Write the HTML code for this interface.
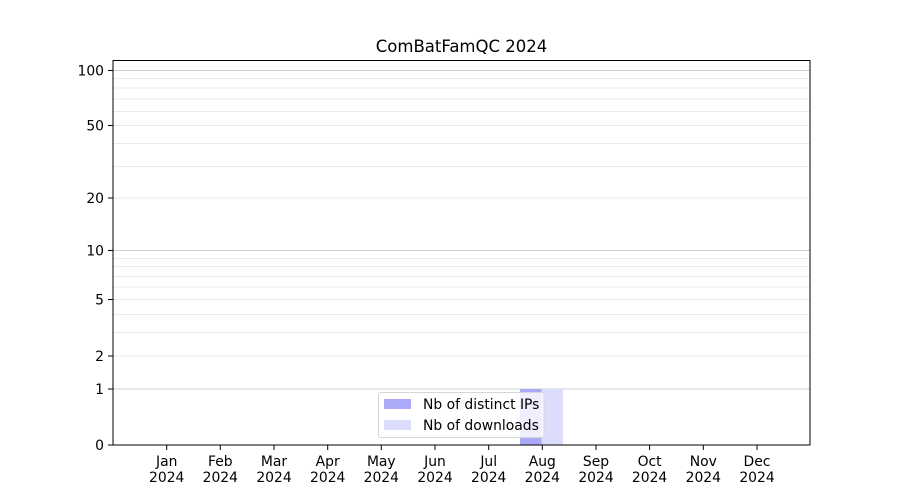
<!DOCTYPE html>
<html>
<head>
<meta charset="utf-8">
<style>
  html, body { margin: 0; padding: 0; background: #ffffff; }
  svg { display: block; }
  text { font-family: "DejaVu Sans", "Liberation Sans", sans-serif; fill: #000; }
</style>
</head>
<body>
<svg width="900" height="500" viewBox="0 0 900 500" xmlns="http://www.w3.org/2000/svg">
  <rect x="0" y="0" width="900" height="500" fill="#ffffff"/>
  <!-- title -->
  <text x="461.5" y="52" font-size="16.5" text-anchor="middle">ComBatFamQC 2024</text>

  <!-- minor / light gridlines -->
  <g stroke="#ebebeb" stroke-width="1">
    <line x1="113" x2="810" y1="356" y2="356"/>
    <line x1="113" x2="810" y1="332.5" y2="332.5"/>
    <line x1="113" x2="810" y1="314.5" y2="314.5"/>
    <line x1="113" x2="810" y1="299.5" y2="299.5"/>
    <line x1="113" x2="810" y1="287" y2="287"/>
    <line x1="113" x2="810" y1="276.5" y2="276.5"/>
    <line x1="113" x2="810" y1="266.5" y2="266.5"/>
    <line x1="113" x2="810" y1="258.5" y2="258.5"/>
    <line x1="113" x2="810" y1="198" y2="198"/>
    <line x1="113" x2="810" y1="166.5" y2="166.5"/>
    <line x1="113" x2="810" y1="143.5" y2="143.5"/>
    <line x1="113" x2="810" y1="125.5" y2="125.5"/>
    <line x1="113" x2="810" y1="111.5" y2="111.5"/>
    <line x1="113" x2="810" y1="99" y2="99"/>
    <line x1="113" x2="810" y1="88" y2="88"/>
    <line x1="113" x2="810" y1="78.5" y2="78.5"/>
  </g>
  <!-- major gridlines -->
  <g stroke="#cfcfcf" stroke-width="1">
    <line x1="113" x2="810" y1="389" y2="389"/>
    <line x1="113" x2="810" y1="250.5" y2="250.5"/>
    <line x1="113" x2="810" y1="70.5" y2="70.5"/>
  </g>

  <!-- bars -->
  <rect x="520" y="389" width="21.7" height="56" fill="#aaaaf9"/>
  <rect x="541.7" y="389" width="21.2" height="56" fill="#dcdcfc"/>

  <!-- legend -->
  <rect x="378.5" y="392.5" width="165.5" height="45" rx="2.5" ry="2.5" fill="#ffffff" fill-opacity="0.8" stroke="#d6d6d6" stroke-width="1"/>
  <rect x="384" y="399" width="27" height="10" fill="#aaaaf9"/>
  <rect x="384" y="420" width="27" height="10" fill="#dcdcfc"/>
  <text x="423" y="409" font-size="13.9">Nb of distinct IPs</text>
  <text x="423" y="430" font-size="13.9">Nb of downloads</text>

  <!-- axes frame -->
  <rect x="113" y="60.5" width="697" height="384.5" fill="none" stroke="#000" stroke-width="1"/>

  <!-- y ticks -->
  <g stroke="#000" stroke-width="1">
    <line x1="108" x2="113" y1="445" y2="445"/>
    <line x1="108" x2="113" y1="389" y2="389"/>
    <line x1="108" x2="113" y1="356" y2="356"/>
    <line x1="108" x2="113" y1="299.5" y2="299.5"/>
    <line x1="108" x2="113" y1="250.5" y2="250.5"/>
    <line x1="108" x2="113" y1="198" y2="198"/>
    <line x1="108" x2="113" y1="125.5" y2="125.5"/>
    <line x1="108" x2="113" y1="70.5" y2="70.5"/>
  </g>
  <g font-size="13.9" text-anchor="end">
    <text x="104" y="450">0</text>
    <text x="104" y="394">1</text>
    <text x="104" y="361">2</text>
    <text x="104" y="304.5">5</text>
    <text x="104" y="255.5">10</text>
    <text x="104" y="203">20</text>
    <text x="104" y="130.5">50</text>
    <text x="104" y="75.5">100</text>
  </g>

  <!-- x ticks -->
  <g stroke="#000" stroke-width="1">
    <line x1="166.7" x2="166.7" y1="445" y2="450"/>
    <line x1="220.3" x2="220.3" y1="445" y2="450"/>
    <line x1="274" x2="274" y1="445" y2="450"/>
    <line x1="327.7" x2="327.7" y1="445" y2="450"/>
    <line x1="381.3" x2="381.3" y1="445" y2="450"/>
    <line x1="435" x2="435" y1="445" y2="450"/>
    <line x1="488.7" x2="488.7" y1="445" y2="450"/>
    <line x1="542.3" x2="542.3" y1="445" y2="450"/>
    <line x1="596" x2="596" y1="445" y2="450"/>
    <line x1="649.6" x2="649.6" y1="445" y2="450"/>
    <line x1="703.3" x2="703.3" y1="445" y2="450"/>
    <line x1="757" x2="757" y1="445" y2="450"/>
  </g>
  <g font-size="13.9" text-anchor="middle">
    <text x="166.7" y="466">Jan</text><text x="166.7" y="482">2024</text>
    <text x="220.3" y="466">Feb</text><text x="220.3" y="482">2024</text>
    <text x="274" y="466">Mar</text><text x="274" y="482">2024</text>
    <text x="327.7" y="466">Apr</text><text x="327.7" y="482">2024</text>
    <text x="381.3" y="466">May</text><text x="381.3" y="482">2024</text>
    <text x="435" y="466">Jun</text><text x="435" y="482">2024</text>
    <text x="488.7" y="466">Jul</text><text x="488.7" y="482">2024</text>
    <text x="542.3" y="466">Aug</text><text x="542.3" y="482">2024</text>
    <text x="596" y="466">Sep</text><text x="596" y="482">2024</text>
    <text x="649.6" y="466">Oct</text><text x="649.6" y="482">2024</text>
    <text x="703.3" y="466">Nov</text><text x="703.3" y="482">2024</text>
    <text x="757" y="466">Dec</text><text x="757" y="482">2024</text>
  </g>
</svg>
</body>
</html>
